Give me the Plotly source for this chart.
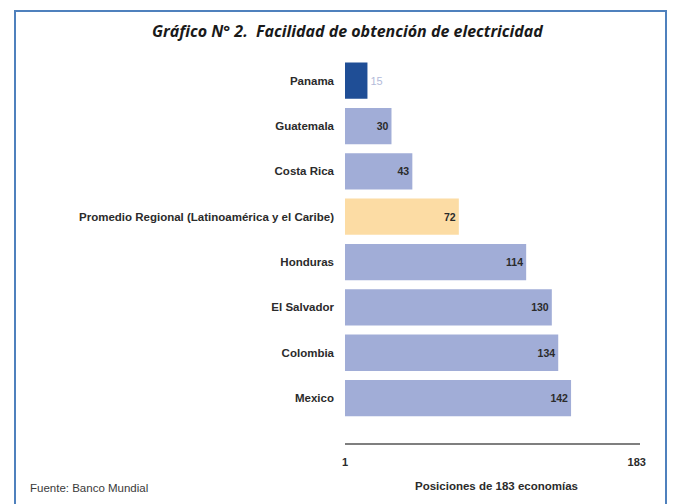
import plotly.graph_objects as go

categories = ["Panama", "Guatemala", "Costa Rica",
              "Promedio Regional (Latinoamérica y el Caribe)",
              "Honduras", "El Salvador", "Colombia", "Mexico"]
values = [15, 30, 43, 72, 114, 130, 134, 142]
bar_colors = ["#1F4E96", "#A1ADD7", "#A1ADD7", "#FCDCA4",
              "#A1ADD7", "#A1ADD7", "#A1ADD7", "#A1ADD7"]
x_ticks = [1, 183]
x_tick_labels = ["1", "183"]

W, H = 673, 504
ML, MR, MT, MB = 345, 33, 58, 61
PW, PH = W - ML - MR, H - MT - MB

def px(x):
    return (x - ML) / PW

def py(y):
    return (H - MB - y) / PH

text_pos = ["outside"] + ["inside"] * (len(values) - 1)
text_col = ["#B3BBDA"] + ["#2B2B2B"] * (len(values) - 1)
text_size = [11] + [10.5] * (len(values) - 1)
texts = [str(values[0])] + ["<b>%d</b>" % v for v in values[1:]]

fig = go.Figure(go.Bar(
    x=values, y=list(range(len(categories))), orientation="h",
    marker=dict(color=bar_colors, line=dict(width=0)),
    text=texts, textposition=text_pos, insidetextanchor="end",
    textfont=dict(color=text_col, size=text_size, family="Liberation Sans"),
    outsidetextfont=dict(color=text_col, size=text_size, family="Liberation Sans"),
    width=0.8, cliponaxis=False,
))

fig.update_layout(
    width=W, height=H,
    margin=dict(l=ML, r=MR, t=MT, b=MB),
    paper_bgcolor="white", plot_bgcolor="white",
    showlegend=False,
    font=dict(family="Liberation Sans", color="#2B2B2B"),
    xaxis=dict(range=[1, 185], tickvals=x_ticks, ticktext=["<b>%s</b>" % t for t in x_tick_labels],
               showgrid=False, zeroline=False, showline=True, linecolor="#7F7F7F", linewidth=2,
               ticks="", tickfont=dict(size=11, color="#2B2B2B"), ticklabelstandoff=8),
    yaxis=dict(range=[7.99, -0.5], tickvals=list(range(len(categories))),
               ticktext=["<b>%s</b>" % c for c in categories],
               showgrid=False, zeroline=False, showline=False, ticks="",
               tickfont=dict(size=11.5, color="#2B2B2B"), ticklabelstandoff=10),
    shapes=[dict(type="rect", xref="paper", yref="paper",
                 x0=px(15), x1=px(666), y0=py(515), y1=py(11),
                 line=dict(color="#4F81BD", width=2), fillcolor="rgba(0,0,0,0)", layer="below")],
    annotations=[
        dict(text="<b><i>Gráfico N° 2.  Facilidad de obtención de electricidad</i></b>",
             xref="paper", yref="paper", x=px(347), y=py(31), showarrow=False,
             font=dict(size=16, color="#1A1A1A", family="Open Sans"), xanchor="center", yanchor="middle"),
        dict(text="<b>Posiciones de 183 economías</b>", xref="paper", yref="paper",
             x=px(496), y=py(486), showarrow=False, font=dict(size=11.5, color="#2B2B2B"),
             xanchor="center", yanchor="middle"),
        dict(text="Fuente: Banco Mundial", xref="paper", yref="paper",
             x=px(28), y=py(488), showarrow=False, font=dict(size=11.5, color="#3A3A3A"),
             xanchor="left", yanchor="middle"),
    ],
)

fig.write_html("out.html", config={"displayModeBar": False},
               post_script="document.body.style.margin='0';document.body.style.overflow='hidden';")
